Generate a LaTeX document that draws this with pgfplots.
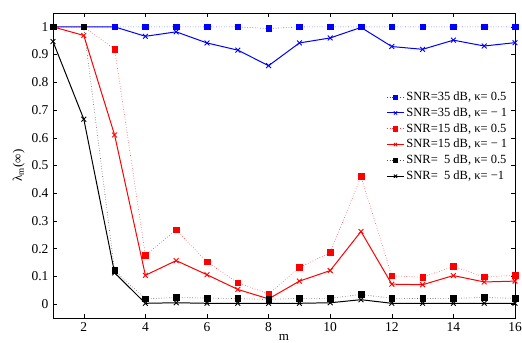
\documentclass[border=0pt]{standalone}
\usepackage{fontspec}
\setmainfont{Liberation Serif}
\usepackage{pgfplots}
\pgfplotsset{compat=1.18}
\begin{document}
\fontsize{13bp}{15bp}\selectfont
\begin{tikzpicture}[x=1bp,y=1bp]
\begin{axis}[
  name=ax,
  scale only axis,
  width=462bp, height=305bp,
  xmin=1, xmax=16, ymin=-0.05, ymax=1.05,
  xtick={2,4,...,16},
  ytick={0,0.1,0.2,0.3,0.4,0.5,0.6,0.7,0.8,0.9,1},
  yticklabels={0,0.1,0.2,0.3,0.4,0.5,0.6,0.7,0.8,0.9,1},
  tick align=inside,
  major tick length=4bp,
  tick style={black, line width=0.5pt},
  axis line style={line width=0.6pt},
  /pgf/number format/assume math mode=true,
  ticklabel style={font=\fontsize{13.5bp}{15bp}\selectfont},
  label style={font=\fontsize{13bp}{15bp}\selectfont},
  xlabel={m},
  ylabel={λ\textsubscript{m}(∞)},
  xlabel style={yshift=6bp},
  ylabel style={yshift=-2bp},
  legend style={draw=none, fill=none, at={(0.99,0.752)}, anchor=north east,
     font=\fontsize{12.5bp}{14bp}\selectfont, row sep=1.2bp, inner sep=1bp},
  legend cell align=left,
  legend image post style={mark size=2.3bp},
]
\addplot[blue!80, dotted, line width=0.6pt, mark=square*, mark size=2.8bp, mark options={solid, fill=blue, draw=blue}]
 coordinates {(1,1)(2,1)(3,1)(4,1)(5,1)(6,1)(7,1)(8,0.994)(9,1)(10,1)(11,1)(12,1)(13,1)(14,1)(15,1)(16,1)};
\addlegendentry{SNR=35 dB, κ= 0.5}
\addplot[blue, solid, line width=1pt, mark=x, mark size=3.4bp, mark options={solid, line width=0.9pt}]
 coordinates {(1,1)(2,1)(3,1)(4,0.966)(5,0.982)(6,0.942)(7,0.916)(8,0.860)(9,0.942)(10,0.960)(11,0.998)(12,0.929)(13,0.919)(14,0.952)(15,0.931)(16,0.943)};
\addlegendentry{SNR=35 dB, κ= − 1}
\addplot[red!75, dotted, line width=0.6pt, mark=square*, mark size=2.8bp, mark options={solid, fill=red, draw=red}]
 coordinates {(1,1)(2,1)(3,0.920)(4,0.176)(5,0.268)(6,0.152)(7,0.077)(8,0.037)(9,0.132)(10,0.186)(11,0.460)(12,0.102)(13,0.097)(14,0.136)(15,0.098)(16,0.104)};
\addlegendentry{SNR=15 dB, κ= 0.5}
\addplot[red, solid, line width=1pt, mark=x, mark size=3.4bp, mark options={solid, line width=0.9pt}]
 coordinates {(1,1)(2,0.969)(3,0.610)(4,0.104)(5,0.157)(6,0.106)(7,0.053)(8,0.019)(9,0.083)(10,0.121)(11,0.262)(12,0.072)(13,0.070)(14,0.103)(15,0.080)(16,0.083)};
\addlegendentry{SNR=15 dB, κ= − 1}
\addplot[black!70, dotted, line width=0.6pt, mark=square*, mark size=2.8bp, mark options={solid, fill=black, draw=black}]
 coordinates {(1,1)(2,1)(3,0.121)(4,0.019)(5,0.024)(6,0.022)(7,0.020)(8,0.017)(9,0.021)(10,0.021)(11,0.035)(12,0.021)(13,0.020)(14,0.021)(15,0.024)(16,0.021)};
\addlegendentry{SNR=\ \ 5 dB, κ= 0.5}
\addplot[black, solid, line width=1pt, mark=x, mark size=3.4bp, mark options={solid, line width=0.9pt}]
 coordinates {(1,0.947)(2,0.667)(3,0.113)(4,0.003)(5,0.005)(6,0.003)(7,0.003)(8,0.003)(9,0.003)(10,0.005)(11,0.016)(12,0.003)(13,0.003)(14,0.003)(15,0.003)(16,0.003)};
\addlegendentry{SNR=\ \ 5 dB, κ= −1}
\end{axis}
\pgfresetboundingbox
\path[use as bounding box] ([xshift=-53bp,yshift=-25bp]ax.south west) rectangle ([xshift=7bp,yshift=13bp]ax.north east);
\end{tikzpicture}
\end{document}
